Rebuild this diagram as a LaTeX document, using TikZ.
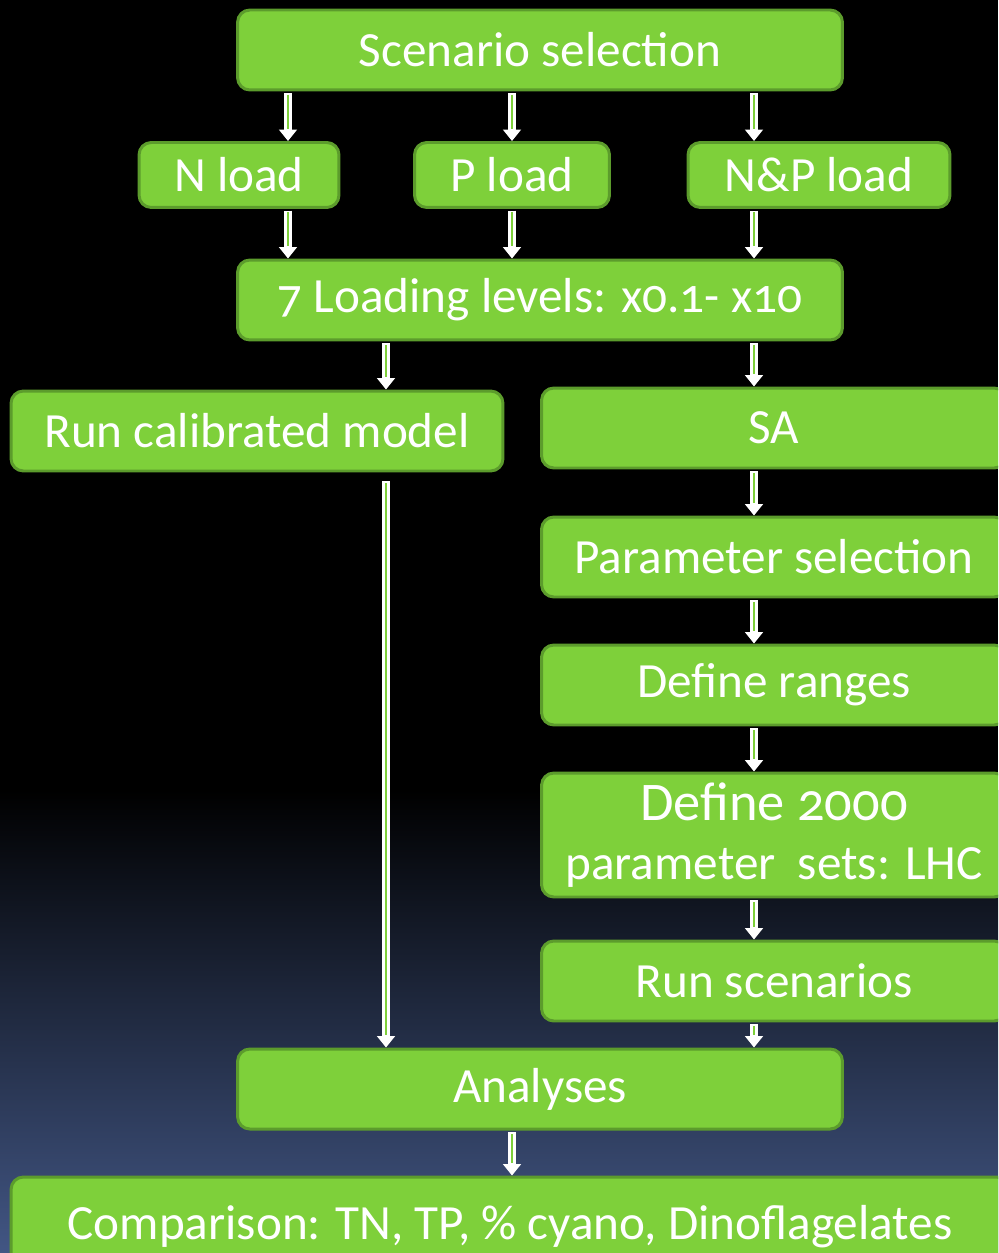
\documentclass[tikz,border=0pt]{standalone}
\usepackage{fontspec}
\setmainfont[Numbers=OldStyle]{Carlito}
\usetikzlibrary{arrows.meta}
\definecolor{boxfill}{RGB}{126,208,58}
\definecolor{boxedge}{RGB}{92,156,44}
\definecolor{bgbottom}{RGB}{66,86,132}

\tikzset{
  stage/.style={draw=boxedge, line width=1.7pt, fill=boxfill, rounded corners=7pt,
    text=white, font=\fontsize{28}{32}\selectfont, minimum height=1.6cm, inner sep=0pt},
  small stage/.style={stage, minimum height=1.3cm},
  flow/.style={white, line width=4.5pt, -{Triangle[width=10pt,length=6.5pt]},
    shorten <=1pt, postaction={draw=boxfill, line width=1pt, -, shorten >=7pt, shorten <=2pt}}
}

\begin{document}
\begin{tikzpicture}[x=0.02cm,y=-0.02cm]
%background
\useasboundingbox (0,0) rectangle (998,1253);
\clip (0,0) rectangle (998,1253);
\fill[black] (0,0) rectangle (998,1253);
\shade[top color=black, bottom color=bgbottom] (0,790) rectangle (998,1253);
%the boxes
\node[stage, minimum width=12.1cm] (scen) at (540,50) {Scenario selection};
\node[small stage, minimum width=4cm] (nload) at (239,175) {N load};
\node[small stage, minimum width=3.9cm] (pload) at (512,175) {P load};
\node[small stage, minimum width=5.24cm] (npload) at (819,175) {N\&P load};
\node[stage, minimum width=12.1cm] (levels) at (540,300) {7 Loading levels: x0.1- x10};
\node[stage, minimum width=9.84cm] (calib) at (257,431) {Run calibrated model};
\node[stage, minimum width=9.3cm] (sa) at (774,428) {SA};
\node[stage, minimum width=9.3cm] (param) at (774,557) {Parameter selection};
\node[stage, minimum width=9.3cm] (ranges) at (774,685) {Define ranges};
\node[stage, minimum width=9.3cm, minimum height=2.48cm, align=center] (sets) at (774,835)
  {{\fontsize{31}{34}\selectfont Define 2000}\\[2pt]parameter\ \ sets: LHC};
\node[stage, minimum width=9.3cm] (runs) at (774,981) {Run scenarios};
\node[stage, minimum width=12.1cm] (anal) at (540,1089) {Analyses};
\node[stage, minimum width=19.96cm, minimum height=1.8cm, text depth=0pt] (comp) at (510,1222)
  {Comparison: TN, TP, \% cyano, Dinoflagelates};
%arrow columns
\coordinate (colN) at (288,0);
\coordinate (colP) at (512,0);
\coordinate (colNP) at (754,0);
\coordinate (colL) at (386,0);
%the arrows
\draw[flow] (scen.south -| colN) -- (nload.north -| colN);
\draw[flow] (scen.south -| colP) -- (pload.north -| colP);
\draw[flow] (scen.south -| colNP) -- (npload.north -| colNP);
\draw[flow] (nload.south -| colN) -- (levels.north -| colN);
\draw[flow] (pload.south -| colP) -- (levels.north -| colP);
\draw[flow] (npload.south -| colNP) -- (levels.north -| colNP);
\draw[flow] (levels.south -| colL) -- (calib.north -| colL);
\draw[flow] (levels.south -| colNP) -- (sa.north -| colNP);
\draw[flow] (sa.south -| colNP) -- (param.north -| colNP);
\draw[flow] (param.south -| colNP) -- (ranges.north -| colNP);
\draw[flow] (ranges.south -| colNP) -- (sets.north -| colNP);
\draw[flow] (sets.south -| colNP) -- (runs.north -| colNP);
\draw[flow] (runs.south -| colNP) -- (anal.north -| colNP);
\draw[flow] ([yshift=-4pt]calib.south -| colL) -- (anal.north -| colL);
\draw[flow] (anal.south -| colP) -- (comp.north -| colP);
\end{tikzpicture}
\end{document}
